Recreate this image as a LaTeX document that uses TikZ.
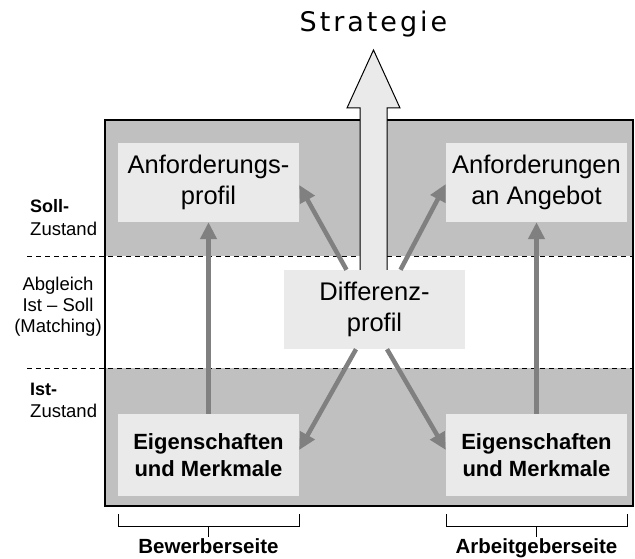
\documentclass[tikz,border=0pt]{standalone}
\usepackage{fontspec}
\setmainfont{Liberation Sans}
\newfontfamily\stratfont[LetterSpace=11]{DejaVu Sans}
\usetikzlibrary{arrows.meta,calc}
\definecolor{band}{HTML}{C0C0C0}
\definecolor{boxfill}{HTML}{EAEAEA}
\definecolor{arrowgray}{HTML}{808080}
\tikzset{
  lightbox/.style={fill=boxfill, inner sep=0pt, minimum width=181pt, minimum height=79pt, align=center,
    font=\fontsize{25.5}{30.6}\selectfont},
  boldbox/.style={lightbox, minimum height=82pt, font=\fontsize{22}{26.5}\selectfont\bfseries},
  grayarrow/.style={draw=arrowgray, line width=4.5pt, -{Triangle[length=17pt,width=16pt]}, shorten >=0pt},
  sidelabel/.style={inner sep=0pt, font=\fontsize{18.5}{22}\selectfont},
  bracketline/.style={draw=black, line width=1pt},
  bottomlabel/.style={inner sep=0pt, font=\fontsize{20.5}{24}\selectfont\bfseries},
  dashline/.style={draw=black, line width=1pt, dash pattern=on 5pt off 4pt}
}
\begin{document}
\begin{tikzpicture}[x=1pt,y=-1pt]
\useasboundingbox (0,0) rectangle (635,559);
% bands and frame
\fill[band] (105,120) rectangle (633,256);
\fill[white] (105,256) rectangle (633,368);
\fill[band] (105,368) rectangle (633,506);
\draw[dashline] (27,256) -- (633,256);
\draw[dashline] (27,368) -- (633,368);
\draw[line width=1.5pt] (105,120) rectangle (633,506);
% big arrow
\draw[fill=boxfill, line width=1pt] (360,290) -- (360,108) -- (347,108) -- (373.5,50) -- (400,108) -- (387,108) -- (387,290);
% boxes
\node[lightbox] (dp) at (374.5,309.5) {Differenz-\\profil};
\node[inner sep=0pt, anchor=base, font=\stratfont\fontsize{27}{32}\selectfont] (strat) at (373.5,32) {Strategie};
\node[lightbox] (ap) at (208.5,182.5) {Anforderungs-\\profil};
\node[lightbox] (aa) at (536.5,182.5) {Anforderungen\\an Angebot};
\node[boldbox] (eigL) at (208.5,455) {Eigenschaften\\und Merkmale};
\node[boldbox] (eigR) at (536.5,455) {Eigenschaften\\und Merkmale};
% arrows
\draw[grayarrow] (eigL.north) -- (ap.south);
\draw[grayarrow] (eigR.north) -- (aa.south);
\draw[grayarrow] ($(dp.north)+(-28,0)$) -- ($(ap.east)+(0,2.5)$);
\draw[grayarrow] ($(dp.north)+(26,0)$) -- ($(aa.west)+(0,1.5)$);
\draw[grayarrow] ($(dp.south)+(-18.5,0)$) -- ($(eigL.east)+(0,-5)$);
\draw[grayarrow] ($(dp.south)+(12.5,0)$) -- ($(eigR.west)+(0,-5)$);
% side labels
\node[sidelabel, anchor=base west, font=\fontsize{18}{22}\selectfont\bfseries] (soll) at (30,213) {Soll-};
\node[sidelabel, anchor=base west] (zs1) at (30,235) {Zustand};
\node[sidelabel, anchor=base] (abg1) at (58,290) {Abgleich};
\node[sidelabel, anchor=base] (abg2) at (58,311) {Ist -- Soll};
\node[sidelabel, anchor=base] (abg3) at (58,332) {(Matching)};
\node[sidelabel, anchor=base west, font=\fontsize{18}{22}\selectfont\bfseries] (ist) at (30,395) {Ist-};
\node[sidelabel, anchor=base west] (zs2) at (30,417) {Zustand};
% brackets
\coordinate (bl1) at (118,514);
\coordinate (bl2) at (299,514);
\coordinate (br1) at (446,514);
\coordinate (br2) at (627,514);
\draw[bracketline] (bl1) -- ++(0,12) -| (bl2);
\draw[bracketline] ($(bl1)!0.5!(bl2)+(0,12)$) -- ++(0,11);
\draw[bracketline] (br1) -- ++(0,12) -| (br2);
\draw[bracketline] ($(br1)!0.5!(br2)+(0,12)$) -- ++(0,11);
\node[bottomlabel, anchor=base] (bew) at (208.5,553) {Bewerberseite};
\node[bottomlabel, anchor=base] (arb) at (536.5,553) {Arbeitgeberseite};
\end{tikzpicture}
\end{document}
